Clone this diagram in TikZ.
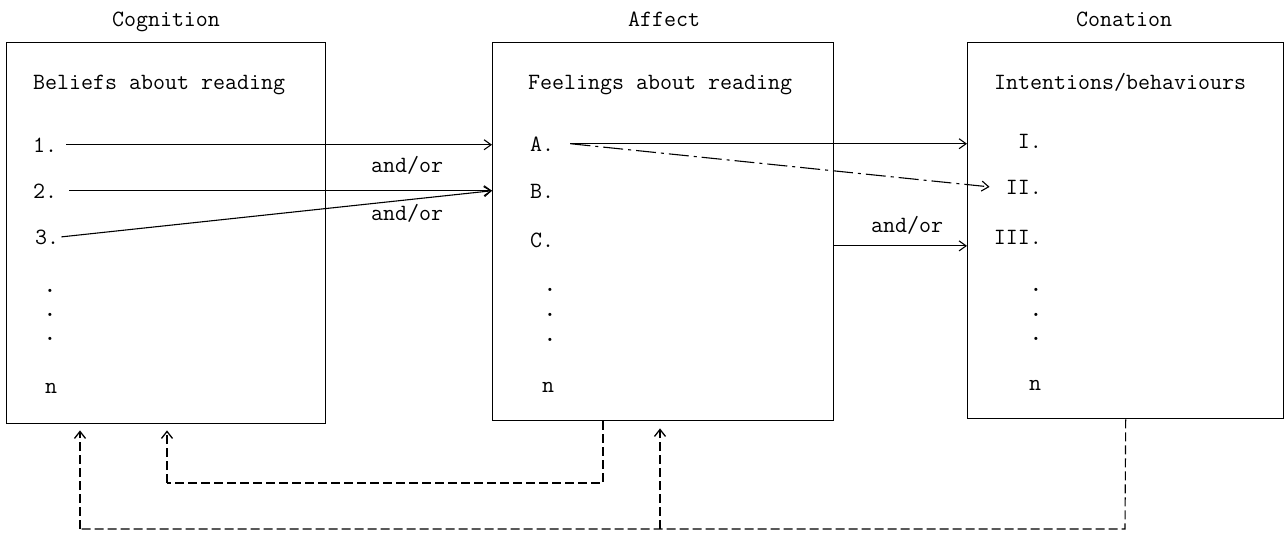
\documentclass[tikz,border=0pt]{standalone}
\usetikzlibrary{arrows.meta}
\newcommand{\labfont}{\fontsize{23.3}{27}\selectfont\ttfamily}
\begin{document}
\begin{tikzpicture}[x=1pt,y=-1pt,
  box/.style={draw, line width=1.4pt, inner sep=0pt, anchor=north west},
  lab/.style={font=\labfont, inner sep=0pt, anchor=base west},
  labr/.style={lab, anchor=base east},
  labc/.style={lab, anchor=base},
  dotc/.style={labc, font=\labfont\bfseries},
  arr/.style={line width=1.1pt, -{Straight Barb[length=7pt,width=10pt,line width=1.1pt]}},
  ddarr/.style={arr, dash pattern=on 20pt off 5pt on 3pt off 5pt},
  fb/.style={line width=1.1pt, dash pattern=on 9pt off 4pt},
  fbarr/.style={fb, -{Straight Barb[length=7pt,width=11pt,line width=1.3pt]}}]
\useasboundingbox (0,0) rectangle (1286,536);
% boxes
\node[box, minimum width=319pt, minimum height=381pt] (cog) at (6,42) {};
\node[box, minimum width=341pt, minimum height=378pt] (aff) at (492,42) {};
\node[box, minimum width=316pt, minimum height=376pt] (con) at (967,42) {};
% titles
\node[labc] (tcog) at (166,26) {Cognition};
\node[labc] (taff) at (664,26) {Affect};
\node[labc] (tcon) at (1124,26) {Conation};
% headings
\node[lab] (hcog) at (33,89) {Beliefs about reading};
\node[lab] (haff) at (528,89) {Feelings about reading};
\node[lab] (hcon) at (994,89) {Intentions/behaviours};
% cognition items
\node[lab] (n1) at (33,152) {1.};
\node[lab] (n2) at (33,198) {2.};
\node[lab] (n3) at (35,244) {3.};
\node[dotc] (dc1) at (50,292) {.};
\node[dotc] (dc2) at (50,316) {.};
\node[dotc] (dc3) at (50,340) {.};
\node[labc] (ncn) at (51,393) {n};
% affect items
\node[lab] (nA) at (530,151) {A.};
\node[lab] (nB) at (530,198) {B.};
\node[lab] (nC) at (530,247) {C.};
\node[dotc] (da1) at (550,291) {.};
\node[dotc] (da2) at (550,316) {.};
\node[dotc] (da3) at (550,341) {.};
\node[labc] (nan) at (548,392) {n};
% conation items
\node[labr] (nI) at (1042,148) {I.};
\node[labr] (nII) at (1042,194) {II.};
\node[labr] (nIII) at (1042,244) {III.};
\node[dotc] (dn1) at (1036,291) {.};
\node[dotc] (dn2) at (1036,316) {.};
\node[dotc] (dn3) at (1036,340) {.};
\node[labc] (nnn) at (1035,390) {n};
% and/or labels
\node[labc] (ao1) at (407,172) {and/or};
\node[labc] (ao2) at (407,220) {and/or};
\node[labc] (ao3) at (907,232) {and/or};
% cognition -> affect
\draw[arr] ([xshift=9pt]n1.east) -- (n1.east -| aff.west);
\draw[arr] ([xshift=12pt]n2.east) -- (n2.east -| aff.west);
\draw[arr] ([xshift=2pt]n3.east) -- (n2.east -| aff.west);
% affect -> conation
\draw[arr] ([xshift=16pt]nA.east) -- (nA.east -| con.west);
\draw[ddarr] ([xshift=16pt]nA.east) -- ([xshift=-16pt]nII.west);
\draw[arr] ([yshift=-9pt]nIII.west -| aff.east) -- ([yshift=-9pt]nIII.west -| con.west);
% feedback loops
\coordinate (fbR) at (1125,529);
\coordinate (fbL) at (80,529);
\coordinate (fbM) at (660,529);
\coordinate (lpR) at (603,483);
\coordinate (lpL) at (167,483);
\draw[fb] (con.south) -- (fbR) -- (fbL);
\draw[fbarr, shorten >=6pt] (fbL) -- (fbL |- cog.south);
\draw[fbarr, shorten >=7pt] (fbM) -- (fbM |- aff.south);
\draw[fb] (lpR |- aff.south) -- (lpR) -- (lpL);
\draw[fbarr, shorten >=6pt] (lpL) -- (lpL |- cog.south);
\end{tikzpicture}
\end{document}
